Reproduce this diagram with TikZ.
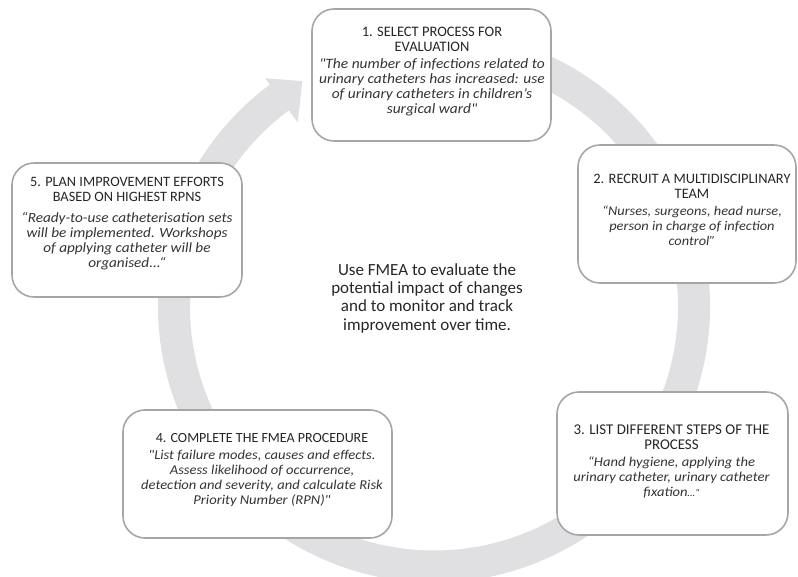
\documentclass[tikz,border=0pt]{standalone}
\usepackage{fontspec}
\setmainfont{Carlito}
\newfontfamily\quotefont{Carlito}[FakeStretch=1.08]
% italic quotation line at a given size
\newcommand{\stepq}[1]{\fontsize{#1}{15}\selectfont\quotefont\itshape\color{quotegray}}
\usetikzlibrary{calc}
\definecolor{ringgray}{RGB}{224,224,226}
\definecolor{framegray}{RGB}{166,166,166}
\definecolor{inkgray}{RGB}{38,38,38}
\definecolor{quotegray}{RGB}{52,52,52}
\begin{document}
\begin{tikzpicture}[x=1pt,y=1pt,
  stepbox/.style={draw=framegray, line width=1.6pt, fill=white, rounded corners=22pt, inner sep=0pt},
  steptext/.style={anchor=north, align=center, inner sep=0pt, text=inkgray, font=\fontsize{#1}{15}\selectfont},
  hubtext/.style={anchor=north, align=center, inner sep=0pt, text=inkgray, font=\fontsize{17}{18.3}\selectfont}]
\useasboundingbox (0,0) rectangle (798,577);

% circular cycle arrow behind the steps
\coordinate (hub) at (434,270.5);
\fill[ringgray] ($(hub)+(112:276)$) arc[start angle=112,end angle=-233.5,radius=276]
  -- ($(hub)+(126.5:284)$) -- ($(hub)+(120.3:261)$) -- ($(hub)+(126.5:229)$)
  -- ($(hub)+(126.5:244)$) arc[start angle=-233.5,end angle=112,radius=244] -- cycle;

% step boxes
\node[stepbox, minimum width=239pt, minimum height=132pt] (b1) at (431.5,502) {};
\node[stepbox, minimum width=218pt, minimum height=138pt] (b2) at (687,363) {};
\node[stepbox, minimum width=231pt, minimum height=143pt] (b3) at (672.5,113.5) {};
\node[stepbox, minimum width=269pt, minimum height=128pt] (b4) at (257.5,103) {};
\node[stepbox, minimum width=230pt, minimum height=134pt] (b5) at (127,347) {};

% step texts
\node[steptext=14.5] (t1) at (432,550.3) {1. SELECT PROCESS FOR\\EVALUATION\\[2pt]
  \stepq{14.3}"The number of infections related to\\
  \stepq{14.3}urinary catheters has increased: use\\
  \stepq{14.3}of urinary catheters in children’s\\
  \stepq{14.3}surgical ward"};
\node[steptext=14.4] (t2) at (692,403) {2. RECRUIT A MULTIDISCIPLINARY\\TEAM\\[2pt]
  \stepq{13.3}“Nurses, surgeons, head nurse,\\
  \stepq{13.3}person in charge of infection\\
  \stepq{13.3}control”};
\node[steptext=14.9] (t3) at (671.5,152) {3. LIST DIFFERENT STEPS OF THE\\PROCESS\\[2pt]
  \stepq{13.5}“Hand hygiene, applying the\\
  \stepq{13.5}urinary catheter, urinary catheter\\
  \stepq{13.5}fixation{\fontsize{10}{15}\selectfont…“}};
\node[steptext=14] (t4) at (262,144) {4. COMPLETE THE FMEA PROCEDURE\\[2pt]
  \stepq{13.5}"List failure modes, causes and effects.\\
  \stepq{13.5}Assess likelihood of occurrence,\\
  \stepq{13.5}detection and severity, and calculate Risk\\
  \stepq{13.5}Priority Number (RPN)"};
\node[steptext=14.3] (t5) at (127,400) {5. PLAN IMPROVEMENT EFFORTS\\BASED ON HIGHEST RPNS\\[6pt]
  \stepq{14.1}“Ready-to-use catheterisation sets\\
  \stepq{14.1}will be implemented. Workshops\\
  \stepq{14.1}of applying catheter will be\\
  \stepq{14.1}organised...“};

% central statement
\node[hubtext] (aim) at (427,313.7) {Use FMEA to evaluate the\\potential impact of changes\\and to monitor and track\\improvement over time.};
\end{tikzpicture}
\end{document}
